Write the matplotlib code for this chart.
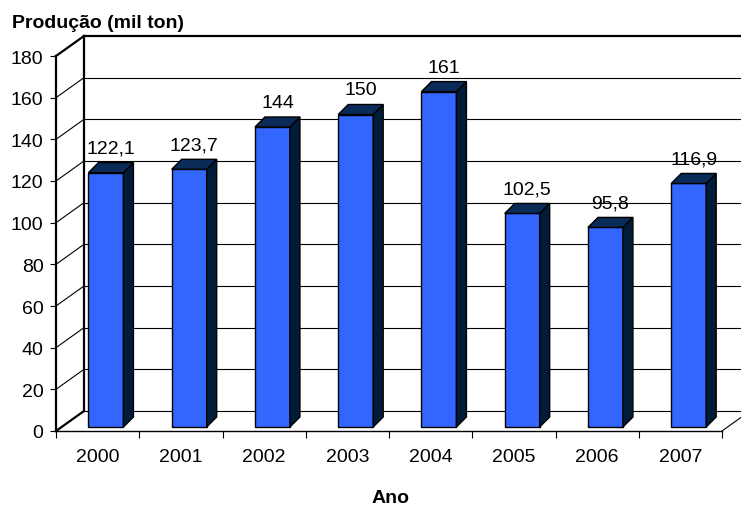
import matplotlib
matplotlib.use("Agg")
import matplotlib.pyplot as plt
from matplotlib.patches import Polygon

plt.rcParams['font.family'] = ['Liberation Sans', 'DejaVu Sans']

anos = ['2000', '2001', '2002', '2003', '2004', '2005', '2006', '2007']
producao = [122.1, 123.7, 144, 150, 161, 102.5, 95.8, 116.9]
yticks = [0, 20, 40, 60, 80, 100, 120, 140, 160, 180]

front = '#3366FF'
side = '#011C38'
top = '#0A2B58'
fs = 14

fig = plt.figure(figsize=(7.41, 5.06), dpi=100)
ax = fig.add_axes([56 / 741, 74 / 506, 666 / 741, 375 / 506])
ax.set_xlim(0, 8)
ax.set_ylim(0, 180)

# depth of the 3d box, in data units
DX = 28 / 83.25
DY = 9.6
n = len(anos)

# back wall + grid
for y in yticks[1:]:
    lw = 1.6 if y == 180 else 0.8
    ax.plot([DX, n + DX + 1], [y + DY, y + DY], color='k', lw=lw, clip_on=False, zorder=1)
    ax.plot([0, DX], [y, y + DY], color='k', lw=lw, clip_on=False, zorder=1)
ax.plot([DX, DX], [DY, 180 + DY], color='k', lw=1.6, clip_on=False, zorder=1)
# floor
ax.plot([DX, n + DX + 1], [DY, DY], color='k', lw=0.8, clip_on=False, zorder=1)
ax.plot([0, n], [0, 0], color='k', lw=1.0, clip_on=False, zorder=1)
ax.plot([n, n + DX], [0, DY], color='k', lw=0.8, clip_on=False, zorder=1)
ax.plot([0, DX], [0, DY], color='k', lw=1.6, clip_on=False, zorder=1)
ax.plot([0, 0], [0, 180], color='k', lw=1.6, clip_on=False, zorder=1)

# bars
w = 0.42
yb = 0.2 * DY
sx, sy = 10 / 83.25, 4.8
for i, v in enumerate(producao):
    xl = i + 0.39
    xr = xl + w
    yt = v + yb
    ax.add_patch(Polygon([(xl, yb), (xr, yb), (xr, yt), (xl, yt)],
                         facecolor=front, edgecolor='k', lw=1.0, zorder=3))
    ax.add_patch(Polygon([(xr, yb), (xr + sx, yb + sy), (xr + sx, yt + sy), (xr, yt)],
                         facecolor=side, edgecolor='k', lw=1.0, zorder=3))
    ax.add_patch(Polygon([(xl, yt), (xr, yt), (xr + sx, yt + sy), (xl + sx, yt + sy)],
                         facecolor=top, edgecolor='k', lw=1.0, zorder=3))
    lab = f"{v:g}".replace('.', ',')
    ax.text((xl + xr + sx) / 2, yt + sy + 4.8, lab, ha='center', va='baseline', fontsize=fs)

for s in ax.spines.values():
    s.set_visible(False)
ax.set_yticks(yticks)
ax.tick_params(axis='y', direction='out', length=4, width=0.8, pad=5, labelsize=fs)
ax.set_xticks([i + 0.5 for i in range(n)])
ax.set_xticklabels(anos)
ax.set_xticks(range(n + 1), minor=True)
ax.tick_params(axis='x', which='major', length=0, pad=12.5, labelsize=fs)
ax.tick_params(axis='x', which='minor', direction='out', length=5, width=0.8)
ax.patch.set_visible(False)

fig.text(12 / 741, 1 - 28 / 506, 'Produção (mil ton)', fontsize=fs, fontweight='bold',
         ha='left', va='baseline')
fig.text(391 / 741, 1 - 503 / 506, 'Ano', fontsize=fs, fontweight='bold',
         ha='center', va='baseline')

fig.savefig('out.png', dpi=100)
